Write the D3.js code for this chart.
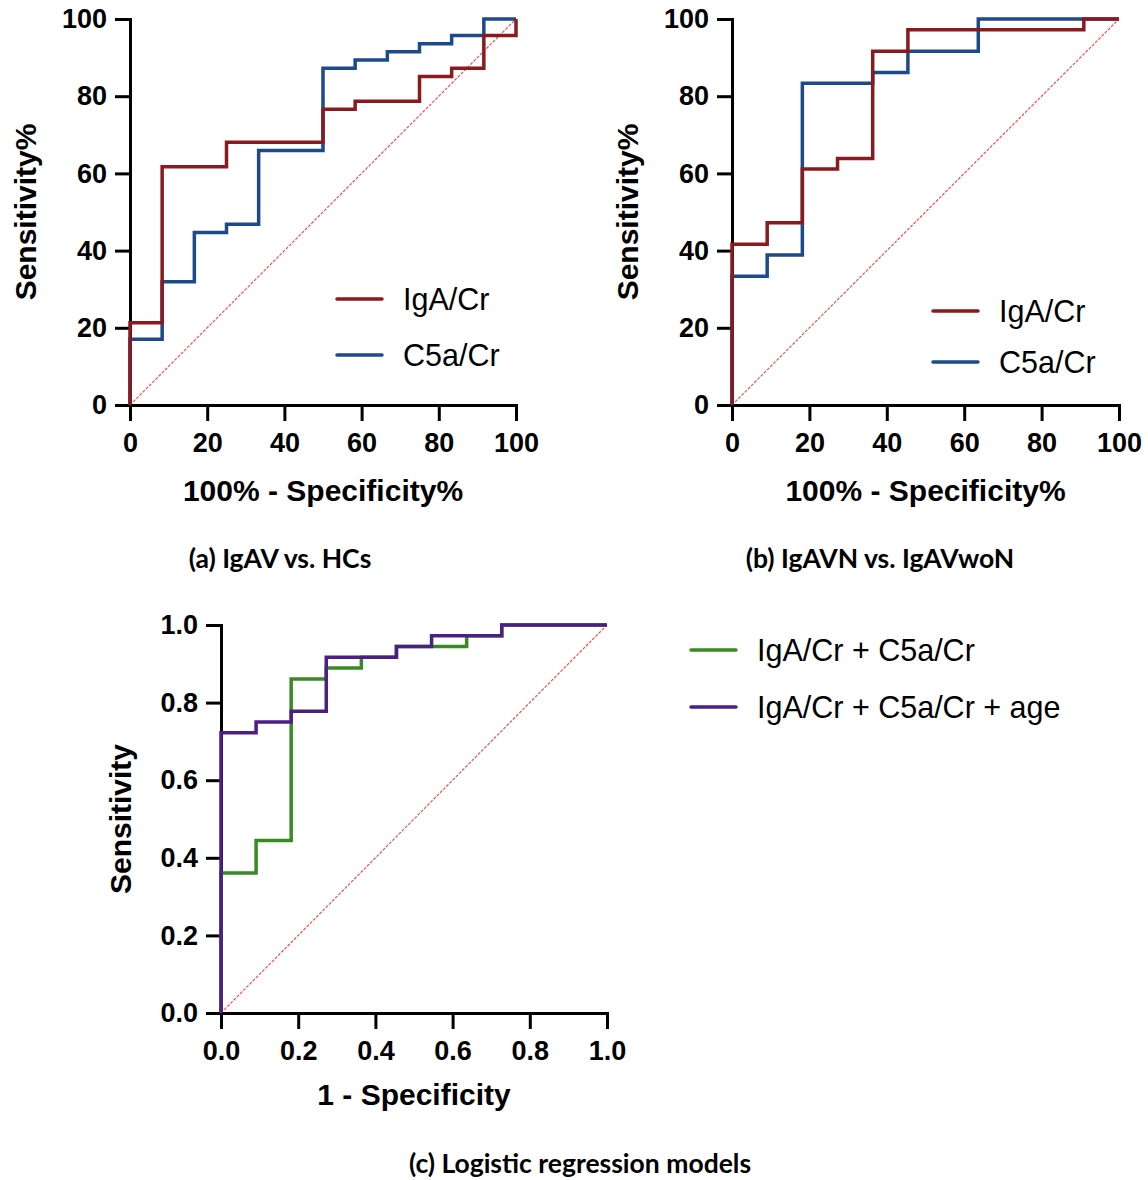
<!DOCTYPE html>
<html>
<head>
<meta charset="utf-8">
<script src="https://cdn.jsdelivr.net/npm/d3@7"></script>
<style>
  html, body { margin: 0; padding: 0; background: #fff; }
  svg { display: block; }
  .tick text { font-family: "Liberation Sans", Arial, sans-serif; font-weight: bold; font-size: 27px; fill: #000; }
  .axis-title { font-family: "Liberation Sans", Arial, sans-serif; font-weight: bold; font-size: 30px; fill: #000; }
  .legend-text { font-family: "Liberation Sans", Arial, sans-serif; font-size: 30.5px; fill: #000; }
  .caption { font-family: Lato, "Open Sans", sans-serif; font-weight: 700; font-size: 26.5px; fill: #000; }
</style>
</head>
<body>
<svg id="fig" width="1148" height="1180"></svg>
<script>
// ROC curve vertices (false positive rate, true positive rate)

// (a) IgAV vs. HCs, in percent
const aIgaFpr = [0, 0, 8.33, 25, 50, 58.33, 75, 83.33, 91.67, 100];
const aIgaTpr = [0, 21.28, 61.70, 68.09, 76.60, 78.72, 85.11, 87.23, 95.74, 100];
const aC5aFpr = [0, 0, 8.33, 16.67, 25, 33.33, 50, 58.33, 66.67, 75, 83.33, 91.67, 100];
const aC5aTpr = [0, 17.02, 31.91, 44.68, 46.81, 65.96, 87.23, 89.36, 91.49, 93.62, 95.74, 100, 100];

// (b) IgAVN vs. IgAVwoN, in percent
const bIgaFpr = [0, 0, 9.09, 18.18, 27.27, 36.36, 45.45, 90.91, 100];
const bIgaTpr = [0, 41.67, 47.22, 61.11, 63.89, 91.67, 97.22, 100, 100];
const bC5aFpr = [0, 0, 9.09, 18.18, 36.36, 45.45, 63.64, 100];
const bC5aTpr = [0, 33.33, 38.89, 83.33, 86.11, 91.67, 100, 100];

// (c) Logistic regression models, as fractions
const cModelFpr = [0, 0, 0.0909, 0.1818, 0.2727, 0.3636, 0.4545, 0.6364, 0.7273, 1];
const cModelTpr = [0, 0.3611, 0.4444, 0.8611, 0.8889, 0.9167, 0.9444, 0.9722, 1, 1];
const cAgeFpr = [0, 0, 0.0909, 0.1818, 0.2727, 0.4545, 0.5455, 0.7273, 1];
const cAgeTpr = [0, 0.7222, 0.75, 0.7778, 0.9167, 0.9444, 0.9722, 1, 1];

const pctTicks = [0, 20, 40, 60, 80, 100];
const fracTicks = [0, 0.2, 0.4, 0.6, 0.8, 1.0];

const colors = {
  iga: "#8b1a1e",
  c5a: "#1c4a8a",
  model: "#3a8a24",
  age: "#4b1f86",
  chance: "#ff3b3b"
};

const svg = d3.select("#fig");

function panel(cfg) {
  const x = d3.scaleLinear().domain(cfg.domain).range(cfg.xRange);
  const y = d3.scaleLinear().domain(cfg.domain).range(cfg.yRange);
  const g = svg.append("g");

  const xAxis = g.append("g")
    .attr("transform", `translate(0,${cfg.yRange[0]})`)
    .call(d3.axisBottom(x).tickValues(cfg.ticks).tickFormat(cfg.fmt).tickSize(16).tickSizeOuter(0).tickPadding(12));
  const yAxis = g.append("g")
    .attr("transform", `translate(${cfg.xRange[0]},0)`)
    .call(d3.axisLeft(y).tickValues(cfg.ticks).tickFormat(cfg.fmt).tickSize(15).tickSizeOuter(0).tickPadding(8));
  [xAxis, yAxis].forEach(a => {
    a.selectAll("path.domain").attr("stroke", "#000").attr("stroke-width", 3).attr("stroke-linecap", "square");
    a.selectAll(".tick line").attr("stroke", "#000").attr("stroke-width", 3);
  });

  // chance diagonal
  g.append("line")
    .attr("x1", x(cfg.domain[0])).attr("y1", y(cfg.domain[0]))
    .attr("x2", x(cfg.domain[1])).attr("y2", y(cfg.domain[1]))
    .attr("stroke", colors.chance).attr("stroke-width", 1.1)
    .attr("stroke-dasharray", "3,1.5");

  const line = d3.line().x(d => x(d[0])).y(d => y(d[1])).curve(d3.curveStepAfter);
  cfg.series.forEach(s => {
    const pts = s.fpr.map((v, i) => [v, s.tpr[i]]);
    g.append("path").datum(pts)
      .attr("d", line)
      .attr("fill", "none")
      .attr("stroke", s.color)
      .attr("stroke-width", 3.5)
      .attr("stroke-linejoin", "miter");
  });

  // axis titles
  g.append("text").attr("class", "axis-title")
    .attr("x", (cfg.xRange[0] + cfg.xRange[1]) / 2).attr("y", cfg.xTitleY)
    .attr("text-anchor", "middle").text(cfg.xTitle);
  g.append("text").attr("class", "axis-title")
    .attr("transform", `translate(${cfg.yTitleX},${(cfg.yRange[0] + cfg.yRange[1]) / 2}) rotate(-90)`)
    .attr("text-anchor", "middle").attr("dy", "0.35em").text(cfg.yTitle);

  // legend
  cfg.legend.items.forEach((it, i) => {
    const ly = cfg.legend.y + i * cfg.legend.gap;
    g.append("line")
      .attr("x1", cfg.legend.x).attr("x2", cfg.legend.x + 45)
      .attr("y1", ly).attr("y2", ly)
      .attr("stroke", it.color).attr("stroke-width", 3.5).attr("stroke-linecap", "round");
    g.append("text").attr("class", "legend-text")
      .attr("x", cfg.legend.x + 66).attr("y", ly + 11).text(it.label);
  });

  // caption
  svg.append("text").attr("class", "caption")
    .attr("x", cfg.caption.x).attr("y", cfg.caption.y)
    .attr("text-anchor", "middle").text(cfg.caption.text);
}

const pctFmt = d3.format("d");
const fracFmt = d3.format(".1f");

panel({
  domain: [0, 100], ticks: pctTicks, fmt: pctFmt,
  xRange: [130, 516], yRange: [405, 19],
  xTitle: "100% - Specificity%", xTitleY: 501,
  yTitle: "Sensitivity%", yTitleX: 25,
  series: [
    { fpr: aC5aFpr, tpr: aC5aTpr, color: colors.c5a },
    { fpr: aIgaFpr, tpr: aIgaTpr, color: colors.iga }
  ],
  legend: { x: 337, y: 299, gap: 56, items: [
    { label: "IgA/Cr", color: colors.iga },
    { label: "C5a/Cr", color: colors.c5a }
  ]},
  caption: { x: 280, y: 568, text: "(a) IgAV vs. HCs" }
});

panel({
  domain: [0, 100], ticks: pctTicks, fmt: pctFmt,
  xRange: [732, 1119], yRange: [405, 19],
  xTitle: "100% - Specificity%", xTitleY: 501,
  yTitle: "Sensitivity%", yTitleX: 627,
  series: [
    { fpr: bC5aFpr, tpr: bC5aTpr, color: colors.c5a },
    { fpr: bIgaFpr, tpr: bIgaTpr, color: colors.iga }
  ],
  legend: { x: 933, y: 311, gap: 51, items: [
    { label: "IgA/Cr", color: colors.iga },
    { label: "C5a/Cr", color: colors.c5a }
  ]},
  caption: { x: 880, y: 568, text: "(b) IgAVN vs. IgAVwoN" }
});

panel({
  domain: [0, 1], ticks: fracTicks, fmt: fracFmt,
  xRange: [221, 607], yRange: [1013, 625],
  xTitle: "1 - Specificity", xTitleY: 1105,
  yTitle: "Sensitivity", yTitleX: 120,
  series: [
    { fpr: cModelFpr, tpr: cModelTpr, color: colors.model },
    { fpr: cAgeFpr, tpr: cAgeTpr, color: colors.age }
  ],
  legend: { x: 691, y: 650, gap: 57, items: [
    { label: "IgA/Cr + C5a/Cr", color: colors.model },
    { label: "IgA/Cr + C5a/Cr + age", color: colors.age }
  ]},
  caption: { x: 580, y: 1173, text: "(c) Logistic regression models" }
});
</script>
</body>
</html>
